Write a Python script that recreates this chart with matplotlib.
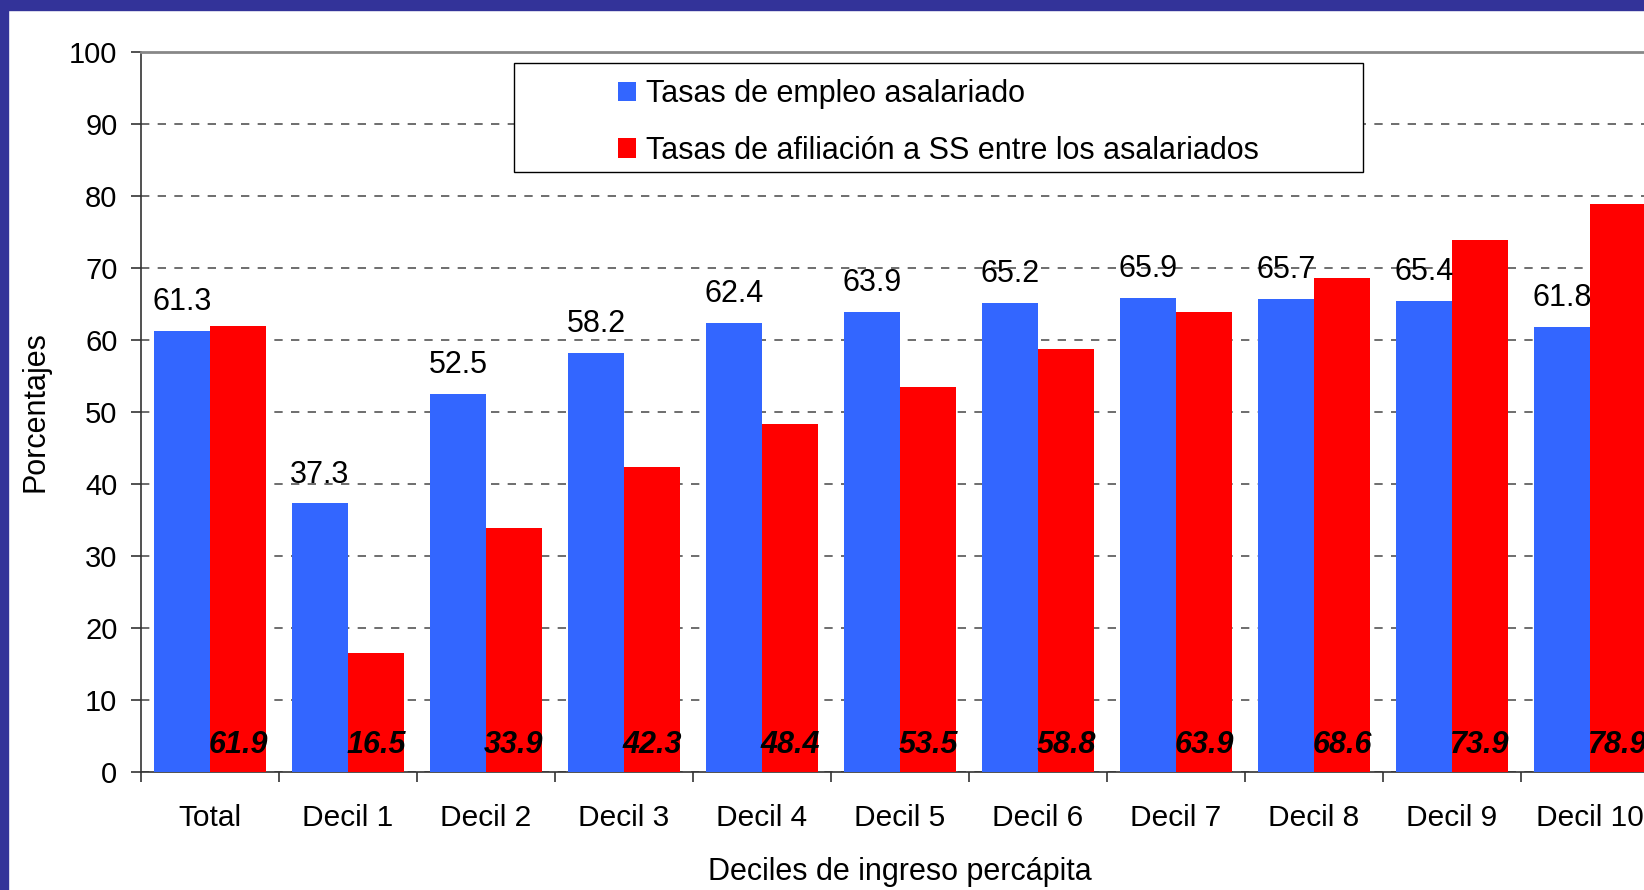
import numpy as np
import matplotlib
matplotlib.use("Agg")
from matplotlib import pyplot as plt
from matplotlib.patches import Rectangle, Patch

# Datos del grafico
categorias = ["Total", "Decil 1", "Decil 2", "Decil 3", "Decil 4", "Decil 5",
              "Decil 6", "Decil 7", "Decil 8", "Decil 9", "Decil 10"]
empleo = [61.3, 37.3, 52.5, 58.2, 62.4, 63.9, 65.2, 65.9, 65.7, 65.4, 61.8]
afiliacion = [61.9, 16.5, 33.9, 42.3, 48.4, 53.5, 58.8, 63.9, 68.6, 73.9, 78.9]
serie_nombres = ["Tasas de empleo asalariado",
                 "Tasas de afiliación a SS entre los asalariados"]

azul = "#3366FF"
rojo = "#FF0000"
borde = "#333399"

plt.rcParams['font.family'] = ['Liberation Sans', 'DejaVu Sans']

fig = plt.figure(figsize=(16.44, 8.9), dpi=100)
# Marco azul (arriba e izquierda)
fig.patches.append(Rectangle((0, 1 - 10/890), 1, 10/890, transform=fig.transFigure,
                             color=borde, zorder=0))
fig.patches.append(Rectangle((0, 0), 8/1644, 1, transform=fig.transFigure,
                             color=borde, zorder=0))

ax = fig.add_axes([141/1644, 1 - 772/890, 1518/1644, 720/890])

x = np.arange(len(categorias)) + 0.5
ancho = 0.406
ax.bar(x - ancho/2, empleo, ancho, color=azul, zorder=3)
ax.bar(x + ancho/2, afiliacion, ancho, color=rojo, zorder=3)

for xi, v in zip(x, empleo):
    ax.annotate(f"{v:.1f}", (xi - ancho/2, v), xytext=(0, 10), textcoords="offset points",
                ha="center", va="bottom", fontsize=22, zorder=5)
for xi, v in zip(x, afiliacion):
    ax.text(xi + ancho/2, 3.8, f"{v:.1f}", ha="center", va="center", fontsize=22,
            fontweight="bold", fontstyle="italic", zorder=5)

ax.set_xlim(0, len(categorias))
ax.set_ylim(0, 100)
ax.set_yticks(range(0, 101, 10))
ax.yaxis.grid(True, linestyle=(0, (5, 5)), color="#555555", linewidth=1.2, zorder=1)
ax.set_axisbelow(True)

ax.set_xticks(np.arange(len(categorias) + 1))
ax.set_xticklabels([])
ax.set_xticks(x, minor=True)
ax.set_xticklabels(categorias, minor=True)
ax.tick_params(axis="x", which="major", length=7, width=1.2, color="#333333", direction="out")
ax.tick_params(axis="x", which="minor", length=0, pad=23, labelsize=21.5)
ax.tick_params(axis="y", length=7, width=1.2, color="#333333", pad=10, labelsize=21)

ax.spines["right"].set_visible(False)
ax.spines["top"].set_color("#888888")
ax.spines["top"].set_linewidth(2)
ax.spines["left"].set_color("#333333")
ax.spines["bottom"].set_color("#333333")
ax.spines["left"].set_linewidth(1.2)
ax.spines["bottom"].set_linewidth(1.2)

ax.set_ylabel("Porcentajes", fontsize=22, labelpad=13)
ax.set_xlabel("Deciles de ingreso percápita", fontsize=22, labelpad=18)

# Leyenda con caja blanca
caja = Rectangle(((514 - 141)/1518, (772 - 172)/720), (1363 - 514)/1518, 109/720,
                 transform=ax.transAxes, facecolor="white", edgecolor="black",
                 linewidth=1, zorder=6)
ax.add_patch(caja)
manejadores = [Patch(facecolor=azul), Patch(facecolor=rojo)]
ax.legend(manejadores, serie_nombres, loc="upper left",
          bbox_to_anchor=((618 - 141)/1518, (772 - 79)/720), frameon=False,
          fontsize=22, handlelength=0.6, handleheight=0.6, handletextpad=0.3,
          labelspacing=0.88, borderpad=0, borderaxespad=0).set_zorder(7)

fig.savefig("out.png", dpi=100)
